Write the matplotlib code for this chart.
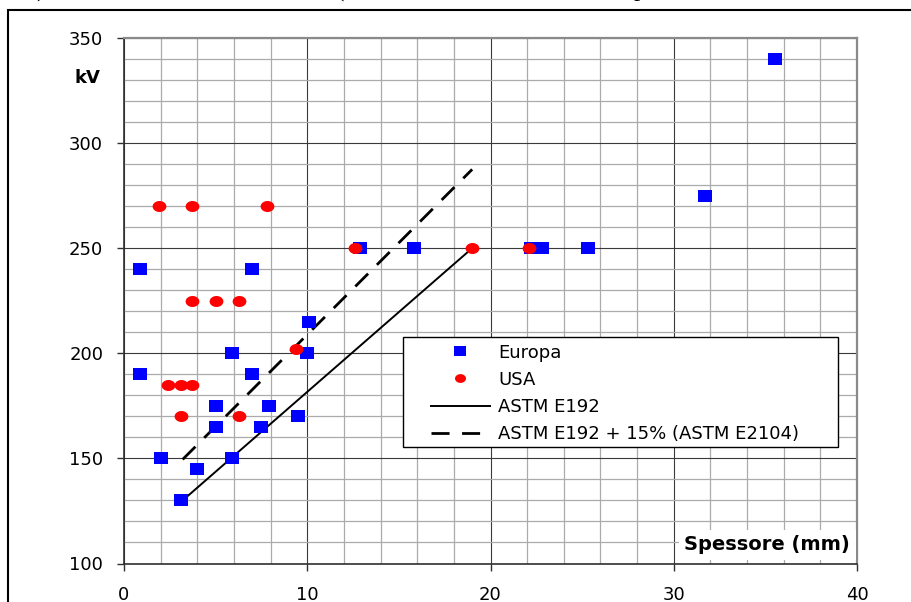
import numpy as np
import matplotlib
matplotlib.use("Agg")
import matplotlib.pyplot as plt
from matplotlib.patches import Rectangle

plt.rcParams['font.family'] = ['DejaVu Sans']

# Europa (blue squares)
europa_x = [0.9, 0.9, 2.0, 3.1, 4.0, 5.0, 5.0, 5.9, 5.9, 7.0, 7.0, 7.9, 7.5,
            9.5, 10.0, 10.1, 12.9, 15.8, 22.2, 22.8, 25.3, 31.7, 35.5]
europa_y = [240, 190, 150, 130, 145, 175, 165, 200, 150, 240, 190, 175, 165,
            170, 200, 215, 250, 250, 250, 250, 250, 275, 340]

# USA (red dots)
usa_x = [1.9, 3.7, 7.8, 3.7, 5.0, 6.3, 2.4, 3.1, 3.7, 3.1, 6.3, 9.4, 12.6, 19.0, 22.1]
usa_y = [270, 270, 270, 225, 225, 225, 185, 185, 185, 170, 170, 202, 250, 250, 250]

# ASTM curves
astm_x = [3.2, 19.0]
astm_y = [130, 250]
astm15_y = [149.5, 287.5]

x_ticks = [0, 10, 20, 30, 40]
y_ticks = [100, 150, 200, 250, 300, 350]

# markers look stretched horizontally in the original
sq_marker = [(-1.25, -1), (1.25, -1), (1.25, 1), (-1.25, 1), (-1.25, -1)]
t = np.linspace(0, 2 * np.pi, 60)
ell_marker = list(zip(1.25 * np.cos(t), np.sin(t)))

fig = plt.figure(figsize=(9.12, 6.02), dpi=100)

# outer frame of the picture (cut at right and bottom)
fig.add_artist(Rectangle((8 / 912, -0.1), 1.2, 1.1 - 10 / 602, transform=fig.transFigure,
                         fill=False, edgecolor='black', lw=1.5, clip_on=False))
# remains of the caption cut at the top
for xp, ch in [(40, ')'), (340, '('), (640, 'p')]:
    fig.text(xp / 912, 1.006, ch, family='Liberation Serif', fontsize=18,
             ha='center', va='baseline')

ax = fig.add_axes([124 / 912, 1 - 563.5 / 602, 733 / 912, 525.5 / 602])

ax.plot(astm_x, astm_y, color='black', lw=1.4, label='ASTM E192', zorder=3)
ax.plot(astm_x, astm15_y, color='black', lw=2, dashes=(6.5, 4.5),
        label='ASTM E192 + 15% (ASTM E2104)', zorder=3)
ax.plot(europa_x, europa_y, ls='none', marker=sq_marker, ms=10.6, color='#0000ff',
        mec='#0000ff', mew=0, label='Europa', zorder=4)
ax.plot(usa_x, usa_y, ls='none', marker=ell_marker, ms=9.9, color='#ff0000',
        mec='#ff0000', mew=0, label='USA', zorder=4.5)

ax.set_xlim(0, 40)
ax.set_ylim(100, 350)
ax.set_xticks(x_ticks)
ax.set_yticks(y_ticks)
ax.set_xticks(np.arange(0, 41, 2), minor=True)
ax.set_yticks(np.arange(100, 351, 10), minor=True)
ax.tick_params(which='major', direction='out', length=5, width=1, color='#303030',
               labelsize=13, labelcolor='black')
ax.tick_params(axis='y', which='major', pad=10)
ax.tick_params(axis='x', which='major', pad=11)
ax.tick_params(which='minor', length=0)
ax.grid(which='minor', color='#ababab', lw=0.9, zorder=0)
ax.grid(which='major', color='#3a3a3a', lw=0.8, zorder=0)
ax.set_axisbelow(True)

for s in ['left', 'bottom']:
    ax.spines[s].set_color('#303030')
    ax.spines[s].set_linewidth(1.2)
for s in ['top', 'right']:
    ax.spines[s].set_color('#8a8a8a')
    ax.spines[s].set_linewidth(1.6)

fig.text(87 / 912, 1 - 78 / 602, 'kV', fontsize=13, fontweight='bold',
         ha='center', va='center')
ax.text(0.9904, 0.0356, 'Spessore (mm)', transform=ax.transAxes, fontsize=14,
        fontweight='bold', ha='right', va='center',
        bbox=dict(facecolor='white', edgecolor='none', pad=4), zorder=6)

# legend box
ax.add_patch(Rectangle((0.381, 0.2211), 0.5935, 0.2093, transform=ax.transAxes,
                       facecolor='white', edgecolor='black', lw=1, zorder=5))
h, l = ax.get_legend_handles_labels()
order = [2, 3, 0, 1]
leg = ax.legend([h[i] for i in order], [l[i] for i in order], loc='upper left',
                bbox_to_anchor=(0.4184, 0.4181), frameon=False, borderpad=0,
                borderaxespad=0, fontsize=13, labelspacing=0.5, handlelength=3.3,
                handletextpad=0.45, markerscale=0.8)
leg.set_zorder(6)

fig.savefig('out.png', dpi=100)
